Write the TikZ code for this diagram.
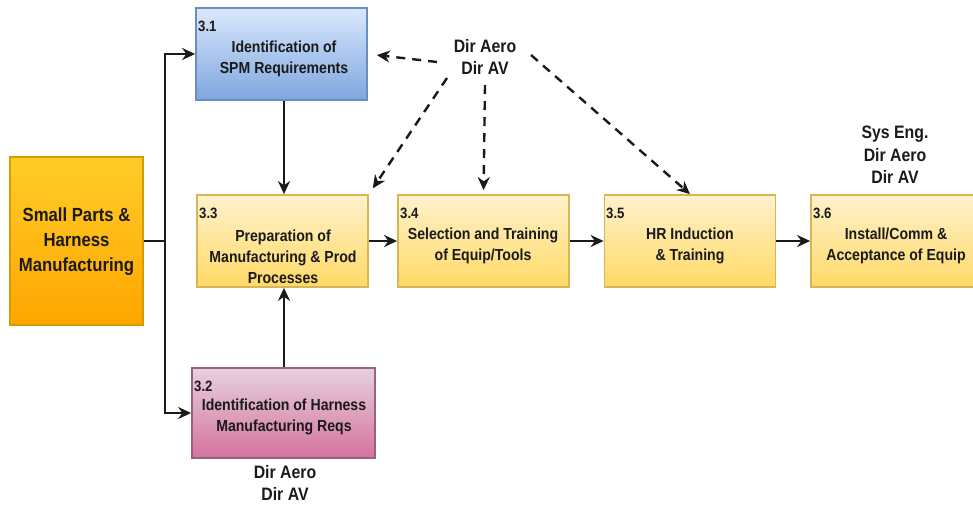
\documentclass[tikz,border=0pt]{standalone}
\usepackage{fontspec}
\setmainfont{Liberation Sans}
\newfontfamily\condfont[FakeStretch=0.88]{Liberation Sans}
\usetikzlibrary{arrows.meta}
\definecolor{yeltop}{HTML}{FFF2CC}
\definecolor{yelbot}{HTML}{FFD966}
\definecolor{yelline}{HTML}{D6B656}
\definecolor{bluetop}{HTML}{DAE8FC}
\definecolor{bluebot}{HTML}{7EA6E0}
\definecolor{blueline}{HTML}{6C8EBF}
\definecolor{pinktop}{HTML}{E6D0DE}
\definecolor{pinkbot}{HTML}{D5739D}
\definecolor{pinkline}{HTML}{996185}
\definecolor{orgtop}{HTML}{FFCD28}
\definecolor{orgbot}{HTML}{FFA500}
\definecolor{orgline}{HTML}{D79B00}
\definecolor{ink}{HTML}{1A1A1A}
\begin{document}
\begin{tikzpicture}[x=1pt,y=-1pt,
  box/.style={draw, line width=1.8pt, minimum width=171pt, minimum height=92pt, inner sep=0pt},
  yelbox/.style={box, draw=yelline, top color=yeltop, bottom color=yelbot},
  bluebox/.style={box, draw=blueline, top color=bluetop, bottom color=bluebot},
  pinkbox/.style={box, draw=pinkline, top color=pinktop, bottom color=pinkbot, minimum width=183pt, minimum height=90pt},
  mainbox/.style={box, draw=orgline, top color=orgtop, bottom color=orgbot, minimum width=133pt, minimum height=168pt},
  boxtext/.style={font=\condfont\bfseries\fontsize{16}{21}\selectfont, text=ink, align=center, inner sep=0pt},
  numtext/.style={font=\condfont\bfseries\fontsize{15}{15}\selectfont, text=ink, anchor=west, inner sep=0pt},
  roletext/.style={font=\condfont\bfseries\fontsize{18}{22.5}\selectfont, text=ink, align=center, inner sep=0pt},
  conn/.style={draw=ink, line width=2.4pt, -{Stealth[length=13pt,width=12pt]}},
  dconn/.style={conn, dash pattern=on 9pt off 7pt},
]
\useasboundingbox (0,0) rectangle (973,507);

% main activity
\node[mainbox] (main) at (76.5,241) {};
\node[font=\condfont\bfseries\fontsize{19}{25}\selectfont, text=ink, align=center, inner sep=0pt]
  (maintext) at (76.5,242) {Small Parts \&\\Harness\\Manufacturing};

% sub-activities
\node[bluebox] (b31) at (281.5,54) {};
\node[yelbox]  (b33) at (282.5,241) {};
\node[yelbox]  (b34) at (483.5,241) {};
\node[yelbox]  (b35) at (690,241) {};
\node[yelbox]  (b36) at (896.5,241) {};
\node[pinkbox] (b32) at (283.5,413) {};

\node[numtext] (n31) at (198,26) {3.1};
\node[numtext] (n33) at (199,213) {3.3};
\node[numtext] (n34) at (400,213) {3.4};
\node[numtext] (n35) at (606,213) {3.5};
\node[numtext] (n36) at (813,213) {3.6};
\node[numtext] (n32) at (194,386) {3.2};

\node[boxtext] (t31) at (284,59) {Identification of\\SPM Requirements};
\node[boxtext] (t33) at (283,257) {Preparation of\\Manufacturing \& Prod\\Processes};
\node[boxtext] (t34) at (483,246) {Selection and Training\\of Equip/Tools};
\node[boxtext] (t35) at (690,246) {HR Induction\\\& Training};
\node[boxtext] (t36) at (896,246) {Install/Comm \&\\Acceptance of Equip};
\node[boxtext] (t32) at (284,417) {Identification of Harness\\Manufacturing Reqs};

% responsible parties
\node[roletext] (dirtop) at (485,57) {Dir Aero\\Dir AV};
\node[roletext] (dirright) at (895,155) {Sys Eng.\\Dir Aero\\Dir AV};
\node[roletext] (dirbottom) at (285,483) {Dir Aero\\Dir AV};

% tree from the main activity
\coordinate (trunk) at (165,241);
\draw[conn] (main.east) -- (trunk) |- (b31.west);
\draw[conn] (main.east) -- (trunk) |- (b32.west);

% flow between activities
\draw[conn] (b31.south -| t31) -- (b33.north -| t31);
\draw[conn] (b32.north -| t31) -- (b33.south -| t31);
\draw[conn] (b33) -- (b34);
\draw[conn] (b34) -- (b35);
\draw[conn] (b35) -- (b36);

% directorate involvement
\coordinate (s1) at (437,62);
\coordinate (s2) at (447,78);
\coordinate (s3) at (485,85);
\coordinate (s4) at (531,55);
\draw[dconn, shorten >=9pt] (s1) -- (b31.east);
\draw[dconn, shorten >=7pt] (s2) -- (b33.north east);
\draw[dconn, shorten >=4pt] (s3) -- (b34.north);
\draw[dconn] (s4) -- (b35.north);
\end{tikzpicture}
\end{document}
